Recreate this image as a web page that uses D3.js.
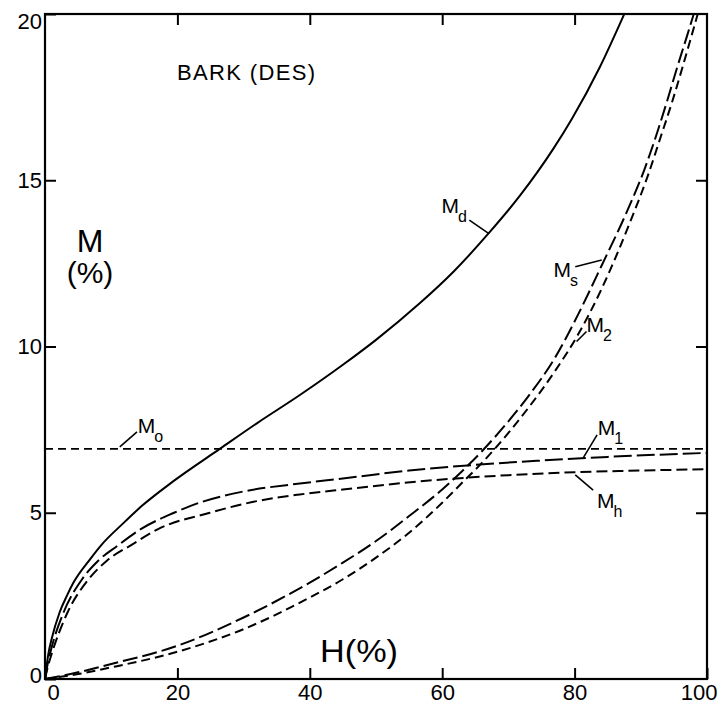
<!DOCTYPE html>
<html>
<head>
<meta charset="utf-8">
<script src="https://cdn.jsdelivr.net/npm/d3@7"></script>
<style>
  html, body { margin: 0; padding: 0; background: #fff; }
  svg { display: block; }
  text { font-family: "Liberation Sans", Arial, sans-serif; fill: #000; }
</style>
</head>
<body>
<div id="chart"></div>
<script>
// ---------- data (H %, M %) ----------
const xTicks = [0, 20, 40, 60, 80, 100];
const yTicks = [0, 5, 10, 15, 20];
const M0value = 6.92;

const mdData = [[0,0],[0.5,0.75],[1,1.2],[2.2,2.0],[3.3,2.5],[4.3,2.9],[6.8,3.6],[8.6,4.05],[11.8,4.68],[14.6,5.2],[19.4,5.95],[26.4,6.92],[32,7.69],[38.5,8.54],[45,9.45],[50,10.2],[56.6,11.3],[61.7,12.25],[67,13.4],[71.8,14.55],[76.8,15.95],[79.6,16.85],[83.8,18.4],[87.5,20]];
const m1Data = [[0,0],[0.5,0.55],[1,0.95],[2.8,2.0],[5.6,3.0],[8,3.55],[10.9,4.0],[14.4,4.5],[19.5,5.0],[21.9,5.2],[29.5,5.62],[38.5,5.88],[45,6.03],[55,6.27],[65,6.44],[75,6.57],[85,6.68],[100,6.8]];
const mhData = [[0,0],[0.5,0.42],[1,0.75],[3.4,2.0],[6.6,3.0],[9.3,3.55],[13.2,4.05],[17,4.5],[24.9,5.0],[32,5.35],[38.5,5.55],[45,5.7],[60,6.0],[70,6.13],[80,6.22],[90,6.27],[100,6.31]];
const msData = [[0,0],[5,0.2],[10,0.45],[20,1.0],[30,1.85],[40,2.9],[45,3.5],[50,4.15],[55,4.9],[60,5.7],[63,6.25],[66,6.85],[70,7.75],[73,8.5],[77,9.65],[80.5,10.95],[84,12.4],[88,14.1],[90.5,15.3],[92.5,16.45],[94,17.4],[95.5,18.4],[97,19.35],[98,20]];
const m2Data = [[0,0],[5,0.15],[10,0.35],[20,0.82],[30,1.5],[40,2.45],[45,3.0],[50,3.65],[55,4.4],[60,5.3],[63,5.9],[66,6.5],[70,7.4],[73,8.15],[77,9.25],[80.5,10.35],[84,11.7],[88.5,13.8],[91,15.1],[93,16.3],[94.8,17.4],[96.3,18.4],[97.6,19.3],[98.6,20]];
const m0Data = [[0, M0value],[100, M0value]];

// ---------- layout ----------
const W = 720, Hgt = 706;
const padL = 45, padR = 707, padT = 14, padB = 679;

const svg = d3.select("#chart").append("svg").attr("width", W).attr("height", Hgt);

const x = d3.scaleLinear().domain([0, 100]).range([padL, padR]);
const y = d3.scaleLinear().domain([0, 20]).range([padB, padT]);

// frame
svg.append("rect").attr("x", padL).attr("y", padT)
  .attr("width", padR - padL).attr("height", padB - padT)
  .attr("fill", "none").attr("stroke", "#000").attr("stroke-width", 2.2);

// axes (inward ticks)
const gB = svg.append("g").attr("transform", `translate(0,${padB})`)
  .call(d3.axisBottom(x).tickValues(xTicks).tickSizeInner(-11).tickSizeOuter(0).tickPadding(5).tickFormat(d3.format("d")));
const gL = svg.append("g").attr("transform", `translate(${padL},0)`)
  .call(d3.axisLeft(y).tickValues(yTicks).tickSizeInner(-11).tickSizeOuter(0).tickPadding(3).tickFormat(d3.format("d")));
const gT = svg.append("g").attr("transform", `translate(0,${padT})`)
  .call(d3.axisTop(x).tickValues(xTicks.slice(1, -1)).tickSizeInner(-11).tickSizeOuter(0).tickFormat(""));
const gR = svg.append("g").attr("transform", `translate(${padR},0)`)
  .call(d3.axisRight(y).tickValues(yTicks.slice(1, -1)).tickSizeInner(-11).tickSizeOuter(0).tickFormat(""));

[gB, gL, gT, gR].forEach(g => {
  g.select(".domain").remove();
  g.selectAll(".tick line").attr("stroke", "#000").attr("stroke-width", 2);
  g.selectAll("text").attr("font-size", 22).attr("font-family", "Liberation Sans, Arial, sans-serif").attr("fill", "#000");
});
// hand-lettered label offsets at the ends
gB.selectAll(".tick text").filter(d => d === 0).attr("text-anchor", "start").attr("x", 2);
gB.selectAll(".tick text").filter(d => d === 100).attr("text-anchor", "end").attr("x", 10);
gL.selectAll(".tick text").filter(d => d === 20).attr("dy", "0.68em");
gL.selectAll(".tick text").filter(d => d === 0).attr("dy", "0.18em");

// curves
const line = d3.line().x(d => x(d[0])).y(d => y(d[1])).curve(d3.curveMonotoneX);
const series = [
  { data: m0Data, dash: "8,5", w: 1.6 },
  { data: mdData, dash: null, w: 2 },
  { data: m1Data, dash: "18,5", w: 2 },
  { data: mhData, dash: "11,5", w: 2 },
  { data: msData, dash: "15,5", w: 2 },
  { data: m2Data, dash: "9,5", w: 2 }
];
svg.append("g").selectAll("path").data(series).join("path")
  .attr("d", d => line(d.data))
  .attr("fill", "none").attr("stroke", "#000")
  .attr("stroke-width", d => d.w)
  .attr("stroke-dasharray", d => d.dash);

// curve labels (positions in data units)
const labels = [
  { sub: "d", mx: 59.9, my: 14.02, l: [[64.1, 13.8], [67.0, 13.4]] },
  { sub: "s", mx: 76.8, my: 12.1, l: [[80.1, 12.4], [84.1, 12.6]] },
  { sub: "2", mx: 81.8, my: 10.45, l: [[80.3, 10.15], [81.8, 10.45]] },
  { sub: "1", mx: 83.5, my: 7.34, l: [[81.3, 6.65], [83.4, 7.34]] },
  { sub: "h", mx: 83.4, my: 5.14, l: [[80.1, 6.14], [82.8, 5.68]] },
  { sub: "o", mx: 14.0, my: 7.4, l: [[11.3, 6.98], [13.9, 7.43]] }
];
const lg = svg.append("g");
labels.forEach(d => {
  const t = lg.append("text").attr("x", x(d.mx)).attr("y", y(d.my));
  t.append("tspan").attr("font-size", 21).text("M");
  t.append("tspan").attr("font-size", 16).attr("dx", -1).attr("dy", 9).text(d.sub);
  lg.append("line").attr("x1", x(d.l[0][0])).attr("y1", y(d.l[0][1]))
    .attr("x2", x(d.l[1][0])).attr("y2", y(d.l[1][1]))
    .attr("stroke", "#000").attr("stroke-width", 1.6);
});

// titles
svg.append("text").attr("x", 177).attr("y", 80).attr("font-size", 22)
  .attr("textLength", 138).attr("lengthAdjust", "spacing").text("BARK (DES)");
svg.append("text").attr("x", 90).attr("y", 252).attr("text-anchor", "middle").attr("font-size", 32).text("M");
svg.append("text").attr("x", 90).attr("y", 283).attr("text-anchor", "middle").attr("font-size", 30).text("(%)");
svg.append("text").attr("x", 320).attr("y", 662).attr("font-size", 31)
  .attr("textLength", 78).attr("lengthAdjust", "spacingAndGlyphs").text("H(%)");
</script>
</body>
</html>
